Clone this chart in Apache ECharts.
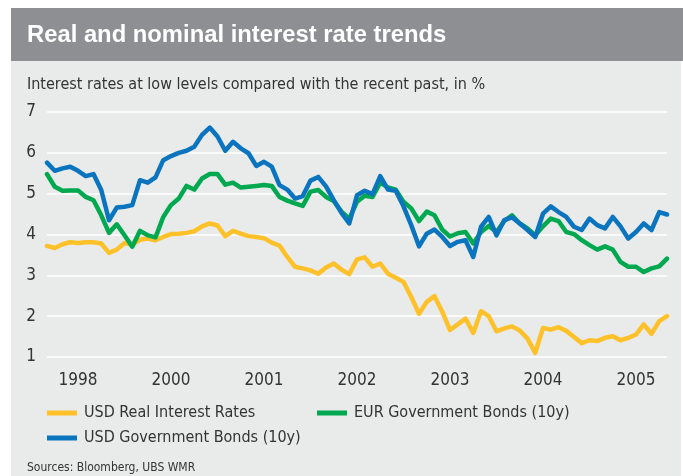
<!DOCTYPE html>
<html>
<head>
<meta charset="utf-8">
<script src="https://cdn.jsdelivr.net/npm/echarts@6/dist/echarts.min.js"></script>
<style>
  html, body { margin: 0; padding: 0; background: #ffffff; }
  #chart { width: 683px; height: 476px; }
</style>
</head>
<body>
<div id="chart"></div>
<script>
// Monthly observations, early 1998 to mid 2005 (in %)
const usdReal = [
  3.72, 3.67, 3.76, 3.81, 3.79, 3.81, 3.81, 3.78, 3.55, 3.63,
  3.79, 3.75, 3.87, 3.90, 3.86, 3.94, 4.01, 4.02, 4.04, 4.08,
  4.20, 4.27, 4.22, 3.96, 4.09, 4.02, 3.96, 3.94, 3.91, 3.80,
  3.73, 3.45, 3.21, 3.17, 3.12, 3.04, 3.19, 3.29, 3.14, 3.03,
  3.39, 3.44, 3.21, 3.29, 3.04, 2.94, 2.84, 2.47, 2.06, 2.35,
  2.49, 2.11, 1.66, 1.80, 1.94, 1.59, 2.12, 2.00, 1.63, 1.70,
  1.75, 1.65, 1.45, 1.10, 1.71, 1.67, 1.73, 1.64, 1.49, 1.34,
  1.41, 1.39, 1.47, 1.51, 1.41, 1.47, 1.55, 1.80, 1.57, 1.88,
  2.00
];
const eurGov = [
  5.48, 5.17, 5.07, 5.08, 5.08, 4.92, 4.84, 4.47, 4.04, 4.25,
  3.98, 3.70, 4.09, 3.98, 3.93, 4.43, 4.72, 4.88, 5.19, 5.10,
  5.37, 5.48, 5.48, 5.22, 5.27, 5.15, 5.17, 5.19, 5.21, 5.19,
  4.92, 4.83, 4.76, 4.70, 5.05, 5.09, 4.92, 4.82, 4.56, 4.39,
  4.80, 4.95, 4.92, 5.27, 5.15, 5.10, 4.80, 4.64, 4.33, 4.56,
  4.47, 4.12, 3.95, 4.03, 4.06, 3.78, 4.06, 4.21, 4.06, 4.33,
  4.47, 4.27, 4.15, 3.98, 4.20, 4.39, 4.33, 4.06, 4.01, 3.86,
  3.74, 3.63, 3.71, 3.63, 3.33, 3.21, 3.21, 3.08, 3.17, 3.22,
  3.41
];
const usdGov = [
  5.76, 5.56, 5.62, 5.66, 5.56, 5.43, 5.48, 5.09, 4.35, 4.66,
  4.68, 4.72, 5.33, 5.27, 5.40, 5.82, 5.92, 6.00, 6.05, 6.15,
  6.44, 6.62, 6.40, 6.05, 6.27, 6.11, 5.99, 5.68, 5.78, 5.66,
  5.21, 5.10, 4.88, 4.94, 5.32, 5.41, 5.18, 4.84, 4.53, 4.27,
  4.96, 5.07, 4.99, 5.43, 5.10, 5.07, 4.69, 4.23, 3.71, 4.02,
  4.12, 3.94, 3.72, 3.82, 3.86, 3.45, 4.19, 4.43, 3.98, 4.35,
  4.42, 4.27, 4.11, 3.94, 4.51, 4.69, 4.55, 4.43, 4.19, 4.11,
  4.39, 4.23, 4.15, 4.43, 4.20, 3.90, 4.06, 4.27, 4.11, 4.55,
  4.49
];

// Year labels and the month index each one sits on
const tickLabels = ['1998', '2000', '2001', '2002', '2003', '2004', '2005'];
const tickIndex = [4, 16, 28, 40, 52, 64, 76];

const seriesNames = ['USD Real Interest Rates', 'EUR Government Bonds (10y)', 'USD Government Bonds (10y)'];
const seriesColors = ['#fec12a', '#00a84f', '#0a74bf'];

const categories = usdReal.map((_, i) => String(i));

const NARROW = '"DejaVu Sans Condensed", "Liberation Sans", Arial, sans-serif';
const TEXT = '#333333';

const chart = echarts.init(document.getElementById('chart'), null, { renderer: 'canvas' });

function legendItem(name, left, top) {
  return {
    data: [name],
    left: left,
    top: top,
    padding: 0,
    icon: 'rect',
    itemWidth: 30,
    itemHeight: 5,
    itemGap: 0,
    selectedMode: false,
    textStyle: { fontFamily: NARROW, fontSize: 16, color: TEXT, lineHeight: 20, padding: [0, 0, 0, 2] }
  };
}

chart.setOption({
  animation: false,
  backgroundColor: '#ffffff',
  graphic: [
    { type: 'rect', shape: { x: 11, y: 61, width: 670, height: 415 }, style: { fill: '#e9eaea' }, z: -10 },
    { type: 'rect', shape: { x: 11, y: 8, width: 672, height: 53 }, style: { fill: '#8e8f93' }, z: -10 },
    { type: 'text', x: 27, y: 35, style: {
        text: 'Real and nominal interest rate trends', fill: '#ffffff',
        fontFamily: '"Liberation Sans", Arial, sans-serif', fontWeight: 'bold', fontSize: 23.8,
        verticalAlign: 'middle' } },
    { type: 'text', x: 27, y: 85, style: {
        text: 'Interest rates at low levels compared with the recent past, in %', fill: TEXT,
        fontFamily: NARROW, fontSize: 16, verticalAlign: 'middle' } },
    { type: 'text', x: 27, y: 468, style: {
        text: 'Sources: Bloomberg, UBS WMR', fill: TEXT,
        fontFamily: NARROW, fontSize: 12, verticalAlign: 'middle' } }
  ],
  legend: [
    legendItem(seriesNames[0], 47, 403),
    legendItem(seriesNames[1], 317, 403),
    legendItem(seriesNames[2], 47, 428)
  ],
  grid: { left: 47, right: 16, top: 112, bottom: 119 },
  xAxis: {
    type: 'category',
    data: categories,
    boundaryGap: false,
    axisLine: { show: false },
    axisTick: { show: false },
    splitLine: { show: false },
    axisLabel: {
      interval: (idx) => tickIndex.includes(idx),
      formatter: (v, idx) => tickLabels[tickIndex.indexOf(idx)] || '',
      margin: 15,
      fontFamily: NARROW,
      fontSize: 17,
      color: TEXT
    }
  },
  yAxis: {
    type: 'value',
    min: 1,
    max: 7,
    interval: 1,
    axisLine: { show: false },
    axisTick: { show: false },
    splitLine: { lineStyle: { color: '#ffffff', width: 1.5 } },
    axisLabel: { margin: 11, fontFamily: NARROW, fontSize: 17, color: TEXT }
  },
  series: [
    { name: seriesNames[0], data: usdReal },
    { name: seriesNames[1], data: eurGov },
    { name: seriesNames[2], data: usdGov }
  ].map((s, k) => ({
    name: s.name,
    type: 'line',
    data: s.data,
    showSymbol: false,
    symbol: 'none',
    color: seriesColors[k],
    itemStyle: { color: seriesColors[k] },
    lineStyle: { color: seriesColors[k], width: 4.5, join: 'round', cap: 'round' },
    z: 2 + k
  }))
});
</script>
</body>
</html>
